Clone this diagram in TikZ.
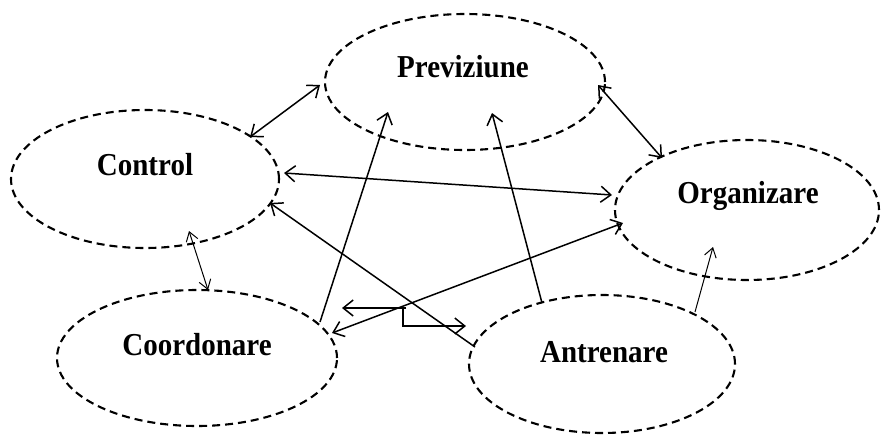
\documentclass[tikz,border=0pt]{standalone}
\usepackage{fontspec}
\setmainfont{Liberation Serif}
\usetikzlibrary{shapes.geometric,arrows.meta,calc}
\begin{document}
\begin{tikzpicture}[x=1pt,y=-1pt,
  ell/.style={draw, ellipse, dash pattern=on 8pt off 5pt, line width=2.1pt, inner sep=0pt, outer sep=0pt},
  lab/.style={font=\bfseries\fontsize{29}{30}\selectfont, inner sep=0pt, anchor=base, yscale=1.1},
  conn/.style={line width=1.5pt, >={Straight Barb[length=10pt,width=16pt]}},
  thinc/.style={line width=1.0pt, >={Straight Barb[length=9pt,width=12pt]}}]
\useasboundingbox (0,0) rectangle (881,434);
% ellipses
\node[ell, minimum width=280pt, minimum height=136pt] (P) at (465,82) {};
\node[ell, minimum width=268pt, minimum height=138pt] (C) at (145,179) {};
\node[ell, minimum width=264pt, minimum height=140pt] (O) at (747,210) {};
\node[ell, minimum width=280pt, minimum height=136pt] (D) at (197,358) {};
\node[ell, minimum width=266pt, minimum height=138pt] (A) at (602,364) {};
% labels
\node[lab] (tP) at (463,77) {Previziune};
\node[lab] (tC) at (145,175) {Control};
\node[lab] (tO) at (748,203) {Organizare};
\node[lab] (tD) at (197,355) {Coordonare};
\node[lab] (tA) at (604,362) {Antrenare};
% connectors
\draw[conn,<->] ($(C)+(105,-42)$) -- ($(P)+(-145,3)$);
\draw[conn,<->] ($(P)+(133,3)$) -- ($(O)+(-85,-52)$);
\draw[conn,<->] ($(C)+(139,-6)$) -- ($(O)+(-135,-15)$);
\draw[conn,->] ($(A)+(-127,-17)$) -- ($(C)+(125,24)$);
\draw[conn,<->] ($(D)+(135,-25)$) -- ($(O)+(-124,13)$);
\draw[thinc,<->] ($(C)+(44,52)$) -- ($(D)+(11,-68)$);
\draw[conn,->] ($(D)+(123,-36)$) -- ($(P)+(-77,30)$);
\draw[conn,->] ($(A)+(-60,-61)$) -- ($(P)+(27,31)$);
\draw[thinc,->] ($(A)+(93,-52)$) -- ($(O)+(-34,37)$);
% split connector
\coordinate (j1) at (406,308);
\coordinate (j2) at (342,308);
\coordinate (j3) at (403,308);
\coordinate (j4) at (466,326);
\draw[conn,->] (j1) -- (j2);
\draw[conn,->] (j3) |- (j4);
\end{tikzpicture}
\end{document}
